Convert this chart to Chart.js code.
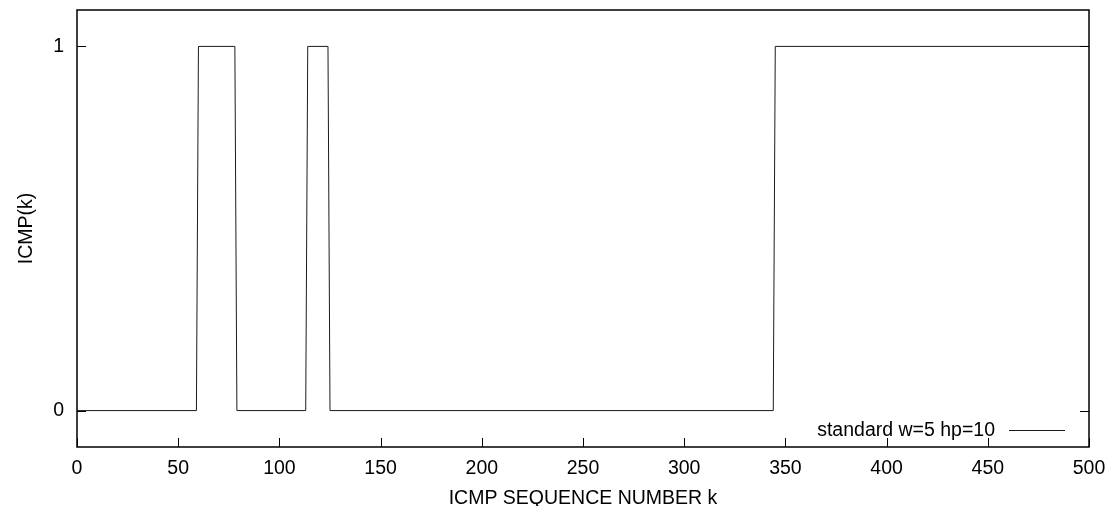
<!DOCTYPE html>
<html>
<head>
<meta charset="utf-8">
<script src="https://cdn.jsdelivr.net/npm/chart.js@4/dist/chart.umd.min.js"></script>
<style>
  html, body { margin: 0; padding: 0; background: #fff; }
  #wrap { width: 1111px; height: 506px; }
</style>
</head>
<body>
<div id="wrap"><canvas id="c" width="1111" height="506"></canvas></div>
<script>
// ---- data ----
const seqK      = [0, 59, 60, 78, 79, 113, 114, 124, 125, 344, 345, 500];
const icmpVals  = [0,  0,  1,  1,  0,   0,   1,   1,   0,   0,   1,   1];
const xTicks    = [0, 50, 100, 150, 200, 250, 300, 350, 400, 450, 500];
const yTicks    = [0, 1];
const seriesLabel = 'standard w=5 hp=10';
const xTitle = 'ICMP SEQUENCE NUMBER k';
const yTitle = 'ICMP(k)';

const FONT = 'Liberation Sans, Arial, Helvetica, sans-serif';
const FS = 19.5;

const points = seqK.map((k, i) => ({ x: k, y: icmpVals[i] }));

const framePlugin = {
  id: 'frame',
  afterDatasetsDraw(chart) {
    const { ctx, chartArea: a, scales } = chart;
    ctx.save();
    ctx.strokeStyle = '#000';
    ctx.lineWidth = 1;
    ctx.beginPath();
    xTicks.forEach(v => {
      const px = Math.round(scales.x.getPixelForValue(v)) + 0.5;
      ctx.moveTo(px, a.bottom);
      ctx.lineTo(px, a.bottom - 9);
    });
    yTicks.forEach(v => {
      const py = Math.round(scales.y.getPixelForValue(v)) + 0.5;
      ctx.moveTo(a.left, py);
      ctx.lineTo(a.left + 9, py);
      ctx.moveTo(a.right, py);
      ctx.lineTo(a.right - 9, py);
    });
    ctx.stroke();
    ctx.lineWidth = 1.5;
    ctx.strokeRect(a.left, a.top, a.right - a.left, a.bottom - a.top);
    const ds = chart.data.datasets[0];
    const ly = 430.5;
    ctx.font = FS + 'px ' + FONT;
    ctx.fillStyle = '#000';
    ctx.textAlign = 'right';
    ctx.textBaseline = 'middle';
    ctx.fillText(ds.label, 995, ly);
    ctx.strokeStyle = ds.borderColor;
    ctx.lineWidth = 1;
    ctx.beginPath();
    ctx.moveTo(1009, ly);
    ctx.lineTo(1065, ly);
    ctx.stroke();
    ctx.restore();
  }
};

new Chart(document.getElementById('c'), {
  type: 'line',
  data: {
    datasets: [{
      label: seriesLabel,
      data: points,
      borderColor: '#1a1a1a',
      borderWidth: 1,
      pointRadius: 0,
      tension: 0,
      fill: false
    }]
  },
  options: {
    responsive: false,
    animation: false,
    maintainAspectRatio: false,
    layout: { padding: { top: 10, right: 22, left: 0, bottom: 0 } },
    plugins: {
      legend: { display: false },
      tooltip: { enabled: false }
    },
    scales: {
      x: {
        type: 'linear',
        min: 0,
        max: 500,
        afterBuildTicks: s => { s.ticks = xTicks.map(v => ({ value: v })); },
        afterFit: s => { s.height = 59; s.paddingLeft = 0; s.paddingRight = 0; },
        grid: { display: false, drawTicks: false },
        border: { display: false },
        ticks: {
          color: '#000',
          padding: 10,
          maxRotation: 0,
          autoSkip: false,
          font: { family: FONT, size: FS }
        },
        title: {
          display: true,
          text: xTitle,
          color: '#000',
          padding: { top: 0, bottom: 0 },
          font: { family: FONT, size: FS, lineHeight: 0.8 }
        }
      },
      y: {
        type: 'linear',
        min: -0.1,
        max: 1.1,
        afterBuildTicks: s => { s.ticks = yTicks.map(v => ({ value: v })); },
        afterFit: s => { s.width = 77; s.paddingTop = 0; s.paddingBottom = 0; },
        grid: { display: false, drawTicks: false },
        border: { display: false },
        ticks: {
          color: '#000',
          padding: 13,
          autoSkip: false,
          font: { family: FONT, size: FS }
        },
        title: {
          display: true,
          text: yTitle,
          color: '#000',
          padding: { top: 15, bottom: 0 },
          font: { family: FONT, size: FS, lineHeight: 1.2 }
        }
      }
    }
  },
  plugins: [framePlugin]
});
</script>
</body>
</html>
